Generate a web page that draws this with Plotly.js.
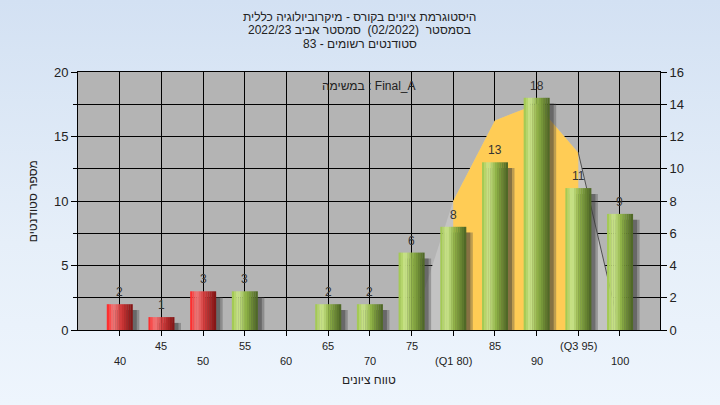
<!DOCTYPE html>
<html>
<head>
<meta charset="utf-8">
<script src="https://cdn.plot.ly/plotly-3.0.1.min.js"></script>
<style>
  html, body { margin:0; padding:0; width:720px; height:405px; overflow:hidden;
    background: linear-gradient(to bottom, #d3e1f3 0%, #e6eff9 60%, #eef5fd 100%); }
  #chart { width:720px; height:405px; }
</style>
</head>
<body>
<div id="chart"></div>
<script>
// ---- data ----
const categories = ['40','45','50','55','60','65','70','75','80','85','90','95','100'];
const counts     = [2, 1, 3, 3, 0, 2, 2, 6, 8, 13, 18, 11, 9];
const status     = ['fail','fail','fail','pass','pass','pass','pass','pass','pass','pass','pass','pass','pass'];
const tickLabels = ['40','45','50','55','60','65','70','75','(Q1 80)','85','90','(Q3 95)','100'];
const curveCats   = ['75','80','85','90','95','100'];
const curveValues = [0, 8, 13, 14, 11, 0];
const q1Cat = '80', q3Cat = '95';
const titleLines = ['היסטוגרמת ציונים בקורס - מיקרוביולוגיה כללית',
                    'בסמסטר  (02/2022)  סמסטר אביב 2022/23',
                    'סטודנטים רשומים - 83'];
const taskLabel = 'במשימה : Final_A';
const xTitle = 'טווח ציונים';
const yTitle = 'מספר סטודנטים';

// ---- derived ----
const i1 = curveCats.indexOf(q1Cat), i3 = curveCats.indexOf(q3Cat);
const iqrCats = curveCats.slice(i1, i3 + 1);
const iqrVals = curveValues.slice(i1, i3 + 1);
const tailCats = curveCats.slice(i3);
const tailVals = curveValues.slice(i3);

// colour stops across the bar width (cylinder shading), left -> right
const shade = {
  fail: [[0,'#ff2020'],[0.25,'#f07a7a'],[0.55,'#d23a3a'],[1,'#7e1212']],
  pass: [[0,'#9cc44a'],[0.25,'#cde68e'],[0.55,'#8db045'],[1,'#4a6224']]
};
function hex2rgb(h){ return [1,3,5].map(i => parseInt(h.substr(i,2),16)); }
function colorAt(stops, t){
  for (let k = 0; k < stops.length - 1; k++) {
    const [t0,c0] = stops[k], [t1,c1] = stops[k+1];
    if (t >= t0 && t <= t1) {
      const f = (t - t0) / (t1 - t0), a = hex2rgb(c0), b = hex2rgb(c1);
      return 'rgb(' + a.map((v,j) => Math.round(v + (b[j]-v)*f)).join(',') + ')';
    }
  }
  return stops[stops.length-1][1];
}

const FONT = 'Liberation Sans, Arial, sans-serif';
const BW = 0.62;
const NB = 12;

const traces = [
  { type:'scatter', mode:'lines', x:curveCats, y:curveValues, yaxis:'y',
    fill:'tozeroy', fillcolor:'#c3c3c3', line:{width:0, color:'#c3c3c3'},
    hoverinfo:'skip', showlegend:false },
  { type:'scatter', mode:'lines', x:iqrCats, y:iqrVals, yaxis:'y',
    fill:'tozeroy', fillcolor:'#ffcc55', line:{width:0, color:'#ffcc55'},
    hoverinfo:'skip', showlegend:false },
  { type:'scatter', mode:'lines', x:tailCats, y:tailVals, yaxis:'y',
    line:{width:1, color:'#505050'}, hoverinfo:'skip', showlegend:false },
  // soft shadow to the right
  { type:'bar', x:categories, y:counts.map(v => v > 0 ? v - 0.1 : 0), yaxis:'y2',
    base: counts.map(v => v > 0 ? -0.35 : 0), width:BW, offset:-BW/2 + 0.16,
    marker:{ color:'rgba(70,70,70,0.35)', line:{width:0} }, hoverinfo:'skip', showlegend:false },
  { type:'bar', x:categories, y:counts.map(v => v > 0 ? v - 0.2 : 0), yaxis:'y2',
    base: counts.map(v => v > 0 ? -0.25 : 0), width:BW, offset:-BW/2 + 0.1,
    marker:{ color:'rgba(50,50,50,0.4)', line:{width:0} }, hoverinfo:'skip', showlegend:false }
];

for (let k = 0; k < NB; k++) {
  const t = (k + 0.5) / NB;
  const w = BW / NB;
  traces.push({ type:'bar', x:categories, y:counts, yaxis:'y2',
    width: w + 0.004, offset: -BW/2 + k*w,
    marker:{ color: status.map(s => colorAt(shade[s], t)), line:{width:0} },
    hoverinfo:'skip', showlegend:false });
}

const annotations = [];
// value labels above bars
counts.forEach((v, i) => {
  if (v > 0) annotations.push({ x:i, xref:'x', y:v, yref:'y2', yanchor:'bottom', xanchor:'center',
    yshift:3, text:String(v), showarrow:false, font:{ family:FONT, size:12, color:'#333' } });
});
categories.forEach((c, i) => {
  const upper = (i % 2 === 1);
  annotations.push({ x:i, xref:'x', y:0, yref:'paper', yanchor:'middle', xanchor:'center',
    yshift: upper ? -16 : -31, text: tickLabels[i], showarrow:false,
    font:{ family:FONT, size:11, color:'#222' } });
});
titleLines.forEach((t, i) => {
  annotations.push({ x:0.4845, xref:'paper', y:[1.213, 1.162, 1.108][i], yref:'paper',
    xanchor:'center', yanchor:'middle', text:t, showarrow:false,
    font:{ family:FONT, size:12, color:'#222' } });
});
annotations.push({ x:0.5, xref:'paper', y:0, yref:'paper', yanchor:'middle', yshift:-50,
  text:xTitle, showarrow:false, font:{ family:FONT, size:12, color:'#222' } });
annotations.push({ x:-0.077, xref:'paper', y:0.5, yref:'paper', xanchor:'center', yanchor:'middle',
  textangle:-90, text:yTitle, showarrow:false, font:{ family:FONT, size:12, color:'#222' } });
annotations.push({ x:0.5, xref:'paper', y:0.946, yref:'paper', xanchor:'center', yanchor:'middle',
  text:taskLabel, showarrow:false, font:{ family:FONT, size:12, color:'#222' } });

const layout = {
  width:720, height:405,
  margin:{ l:78, r:60, t:72, b:75 },
  paper_bgcolor:'rgba(0,0,0,0)', plot_bgcolor:'#b4b4b4',
  font:{ family:FONT, size:12, color:'#222' },
  barmode:'overlay',
  xaxis:{ type:'category', categoryorder:'array', categoryarray:categories,
    range:[-1, 12.96], showgrid:true, gridcolor:'#000', gridwidth:1,
    showline:true, linecolor:'#000', linewidth:1, mirror:true,
    ticks:'outside', ticklen:5, tickcolor:'#000', showticklabels:false, zeroline:false },
  yaxis:{ side:'right', range:[0,16], dtick:2, showgrid:true, gridcolor:'#000', gridwidth:1,
    showline:true, linecolor:'#000', ticks:'outside', ticklen:6, tickcolor:'#000',
    zeroline:false, tickfont:{ family:FONT, size:13, color:'#222' } },
  yaxis2:{ overlaying:'y', side:'left', range:[0,20], dtick:5, showgrid:false,
    showline:true, linecolor:'#000', ticks:'outside', ticklen:6, tickcolor:'#000',
    minor:{ dtick:2.5, ticks:'outside', ticklen:4, tickcolor:'#000' },
    zeroline:false, tickfont:{ family:FONT, size:13, color:'#222' } },
  annotations: annotations
};

Plotly.newPlot('chart', traces, layout, { staticPlot:true, displayModeBar:false });
</script>
</body>
</html>
